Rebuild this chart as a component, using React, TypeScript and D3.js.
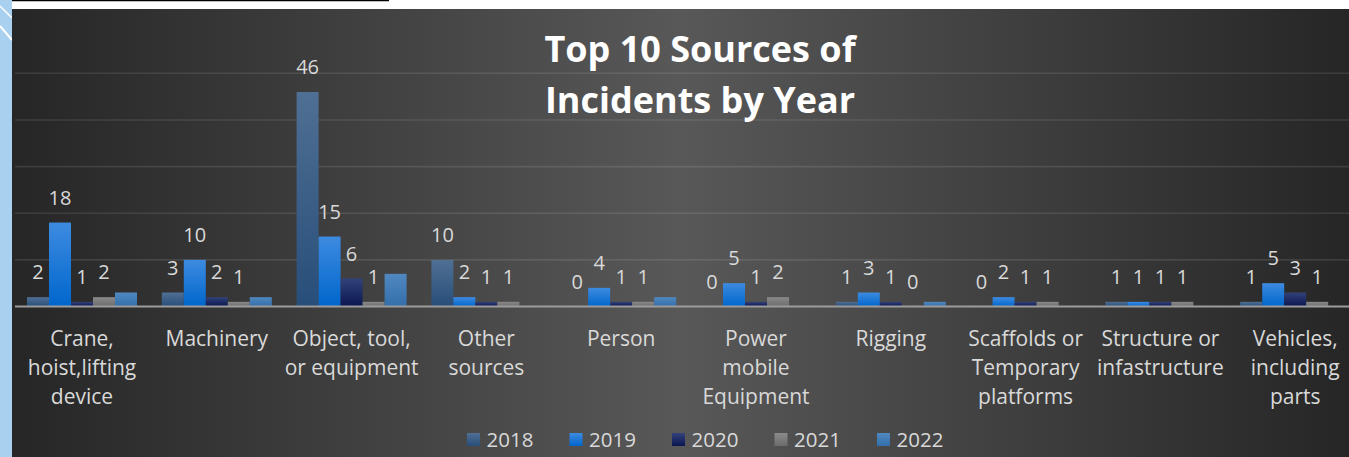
import { useEffect } from "react";
import * as d3 from "d3";

// Top 10 incident sources, one group per source, one bar per year.
const categories = [
  "Crane, hoist,lifting device",
  "Machinery",
  "Object, tool, or equipment",
  "Other sources",
  "Person",
  "Power mobile Equipment",
  "Rigging",
  "Scaffolds or Temporary platforms",
  "Structure or infastructure",
  "Vehicles, including parts",
];
// how Excel wrapped each category label
const categoryLines = [
  ["Crane,", "hoist,lifting", "device"],
  ["Machinery"],
  ["Object, tool,", "or equipment"],
  ["Other", "sources"],
  ["Person"],
  ["Power", "mobile", "Equipment"],
  ["Rigging"],
  ["Scaffolds or", "Temporary", "platforms"],
  ["Structure or", "infastructure"],
  ["Vehicles,", "including", "parts"],
];

const years = ["2018", "2019", "2020", "2021", "2022"];
const values2018 = [2, 3, 46, 10, 0, 0, 1, 0, 1, 1];
const values2019 = [18, 10, 15, 2, 4, 5, 3, 2, 1, 5];
const values2020 = [1, 2, 6, 1, 1, 1, 1, 1, 1, 3];
const values2021 = [2, 1, 1, 1, 1, 2, 0, 1, 1, 1];
const values2022 = [3, 2, 7, 0, 2, 0, 1, 0, 0, 0];
const seriesValues = [values2018, values2019, values2020, values2021, values2022];
// the 2022 series has no data labels in the original
const labelled = [true, true, true, true, false];

const yTicks = [0, 10, 20, 30, 40, 50];

const W = 1349;
const H = 457;

// top/bottom stops of each bar's vertical gradient
const barFills: [string, string][] = [
  ["#506f94", "#274e79"],
  ["#3d8be0", "#0066cc"],
  ["#34427a", "#091650"],
  ["#8a8a8a", "#6c6c6c"],
  ["#5088c0", "#336fab"],
];

const FONT = "'Open Sans', 'Noto Sans', sans-serif";
const TEXT = "#d9d9d9";

export default function App() {
  useEffect(() => {
    document.body.style.margin = "0";
  }, []);

  const x = d3
    .scaleBand<string>()
    .domain(categories)
    .range([14.6, 1362.6])
    .paddingInner(0.184)
    .paddingOuter(0.092);
  const xYear = d3.scaleBand<string>().domain(years).range([0, x.bandwidth()]).padding(0);
  const y = d3.scaleLinear().domain([0, 50]).range([306.5, 73.3]);

  const legendX = d3.scalePoint<string>().domain(years).range([467, 877]);

  return (
    <svg width={W} height={H} style={{ position: "absolute", left: 0, top: 0, display: "block" }}>
      <defs>
        <linearGradient id="bg" x1="0" x2="1" y1="0" y2="0">
          <stop offset="0" stopColor="#262626" />
          <stop offset="0.5" stopColor="#585858" />
          <stop offset="1" stopColor="#262626" />
        </linearGradient>
        {barFills.map(([top, bottom], i) => (
          <linearGradient key={i} id={`bar${i}`} x1="0" x2="0" y1="0" y2="1">
            <stop offset="0" stopColor={top} />
            <stop offset="1" stopColor={bottom} />
          </linearGradient>
        ))}
      </defs>

      {/* slide remnants round the chart */}
      <rect x={0} y={0} width={W} height={H} fill="#ffffff" />
      <rect x={0} y={0} width={12} height={H} fill="#a9d0ee" />
      <line x1={0} y1={6} x2={12} y2={18} stroke="#ffffff" strokeWidth={1.5} />
      <line x1={0} y1={26} x2={12} y2={40} stroke="#ffffff" strokeWidth={2} />
      <line x1={12} y1={0.5} x2={389} y2={0.5} stroke="#000000" strokeWidth={1.5} />

      <rect x={12} y={9} width={W - 12} height={H - 9} fill="url(#bg)" />

      {/* gridlines */}
      {yTicks.slice(1).map((t) => (
        <line
          key={t}
          x1={15}
          x2={W}
          y1={y(t)}
          y2={y(t)}
          stroke="#ffffff"
          strokeOpacity={0.1}
          strokeWidth={1.6}
        />
      ))}

      <text
        x={700}
        textAnchor="middle"
        fontFamily={FONT}
        fontWeight={700}
        fontSize={36}
        fill="#ffffff"
      >
        <tspan x={700} y={62}>
          Top 10 Sources of
        </tspan>
        <tspan x={700} y={113}>
          Incidents by Year
        </tspan>
      </text>

      {/* bars */}
      {categories.map((c, ci) => (
        <g key={c} transform={`translate(${x(c)},0)`}>
          {years.map((yr, si) => {
            const v = seriesValues[si][ci];
            if (v <= 0) return null;
            return (
              <rect
                key={yr}
                x={xYear(yr)}
                y={y(v)}
                width={xYear.bandwidth()}
                height={y(0) - y(v)}
                fill={`url(#bar${si})`}
              />
            );
          })}
        </g>
      ))}

      {/* axis line */}
      <line x1={15} x2={W} y1={y(0)} y2={y(0)} stroke="#9c9c9c" strokeWidth={2} />

      {/* data labels */}
      {categories.map((c, ci) => (
        <g key={c} transform={`translate(${x(c)},0)`}>
          {years.map((yr, si) =>
            labelled[si] ? (
              <text
                key={yr}
                x={(xYear(yr) ?? 0) + xYear.bandwidth() / 2}
                y={y(seriesValues[si][ci]) - 18}
                textAnchor="middle"
                fontFamily={FONT}
                fontSize={20}
                fill={TEXT}
              >
                {seriesValues[si][ci]}
              </text>
            ) : null,
          )}
        </g>
      ))}

      {/* category labels */}
      {categories.map((c, ci) => (
        <text
          key={c}
          textAnchor="middle"
          fontFamily={FONT}
          fontSize={21}
          fill={TEXT}
        >
          {categoryLines[ci].map((line, li) => (
            <tspan key={li} x={(x(c) ?? 0) + x.bandwidth() / 2} y={345.5 + li * 29}>
              {line}
            </tspan>
          ))}
        </text>
      ))}

      {/* legend */}
      {years.map((yr, si) => (
        <g key={yr} transform={`translate(${legendX(yr)},433)`}>
          <rect width={13} height={13} fill={`url(#bar${si})`} />
          <text x={19.5} y={14} fontFamily={FONT} fontSize={20.5} fill={TEXT}>
            {yr}
          </text>
        </g>
      ))}
    </svg>
  );
}
